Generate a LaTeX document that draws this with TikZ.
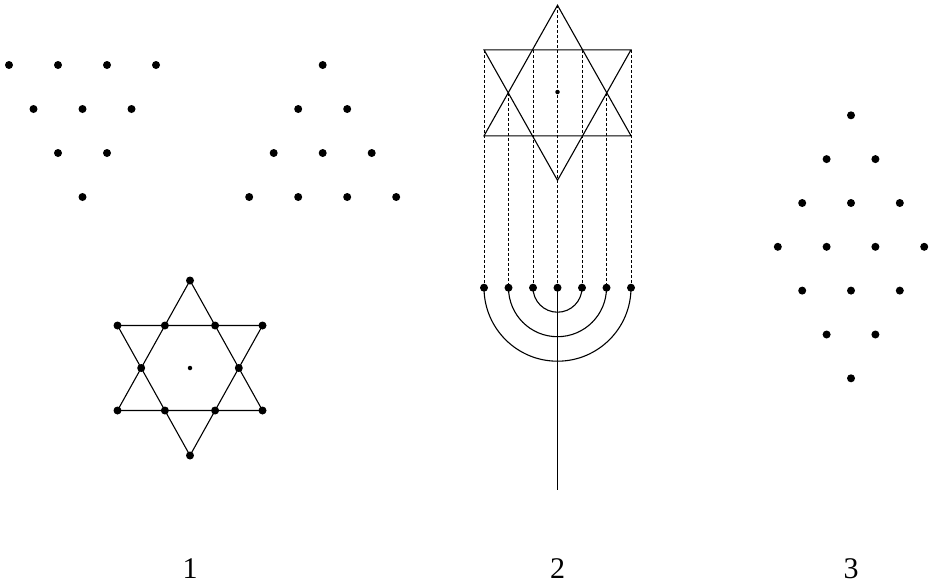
\documentclass[tikz,border=0pt]{standalone}
\usepackage{fontspec}
\setmainfont{Liberation Serif}
\begin{document}
\begin{tikzpicture}[x=1pt,y=-1pt,
  dot/.style={circle,fill=black,inner sep=0pt,minimum size=8pt},
  cdot/.style={circle,fill=black,inner sep=0pt,minimum size=4.5pt},
  edge/.style={line width=1.1pt,line join=miter},
  proj/.style={line width=0.8pt,dash pattern=on 3pt off 2pt},
  lab/.style={font=\fontsize{30}{30}\selectfont,anchor=base,inner sep=0pt}]
\useasboundingbox (0,0) rectangle (933,584);

% ---------- downward triangle of dots (top left)
\node[dot] (a1) at (9,65) {};
\node[dot] (a2) at (58,65) {};
\node[dot] (a3) at (107,65) {};
\node[dot] (a4) at (156,65) {};
\node[dot] (a5) at (33.5,109) {};
\node[dot] (a6) at (82.5,109) {};
\node[dot] (a7) at (131.5,109) {};
\node[dot] (a8) at (58,153) {};
\node[dot] (a9) at (107,153) {};
\node[dot] (a10) at (82.5,197) {};

% ---------- upward triangle of dots
\node[dot] (b1) at (322.7,65) {};
\node[dot] (b2) at (298.2,109) {};
\node[dot] (b3) at (347.2,109) {};
\node[dot] (b4) at (273.7,153) {};
\node[dot] (b5) at (322.7,153) {};
\node[dot] (b6) at (371.7,153) {};
\node[dot] (b7) at (249.2,197) {};
\node[dot] (b8) at (298.2,197) {};
\node[dot] (b9) at (347.2,197) {};
\node[dot] (b10) at (396.2,197) {};

% ---------- star of dots (1)
\node[dot] (sT) at (190,280.5) {};
\node[dot] (sB) at (190,455.5) {};
\node[dot] (sU1) at (117.5,325.5) {};
\node[dot] (sU2) at (164.9,325.5) {};
\node[dot] (sU3) at (215.1,325.5) {};
\node[dot] (sU4) at (262.5,325.5) {};
\node[dot] (sM1) at (141.2,368) {};
\node[dot] (sM2) at (238.8,368) {};
\node[dot] (sL1) at (117.5,410.5) {};
\node[dot] (sL2) at (164.9,410.5) {};
\node[dot] (sL3) at (215.1,410.5) {};
\node[dot] (sL4) at (262.5,410.5) {};
\node[cdot] (sC) at (190,368) {};
\draw[edge] (sT.center) -- (sL1.center) -- (sL4.center) -- cycle;
\draw[edge] (sB.center) -- (sU1.center) -- (sU4.center) -- cycle;

% ---------- star over menorah (2)
\coordinate (mT) at (557.5,5.3);
\coordinate (mB) at (557.5,180.3);
\coordinate (mU1) at (484,49.8);
\coordinate (mU2) at (533,49.8);
\coordinate (mU3) at (582,49.8);
\coordinate (mU4) at (631,49.8);
\coordinate (mM1) at (508.5,92.8);
\coordinate (mM2) at (606.5,92.8);
\coordinate (mL1) at (484,135.8);
\coordinate (mL4) at (631,135.8);
\node[cdot] (mC) at (557.5,92) {};
\draw[edge] (mT) -- (mL1) -- (mL4) -- cycle;
\draw[edge] (mB) -- (mU1) -- (mU4) -- cycle;

% menorah branches
\node[dot] (n1) at (484,287.7) {};
\node[dot] (n2) at (508.5,287.7) {};
\node[dot] (n3) at (533,287.7) {};
\node[dot] (n4) at (557.5,287.7) {};
\node[dot] (n5) at (582,287.7) {};
\node[dot] (n6) at (606.5,287.7) {};
\node[dot] (n7) at (631,287.7) {};
\coordinate (foot) at (557.5,490);

\draw[proj] (mU1) -- (n1.center);
\draw[proj] (mM1) -- (n2.center);
\draw[proj] (mU2) -- (n3.center);
\draw[proj] (mT) -- (n4.center);
\draw[proj] (mU3) -- (n5.center);
\draw[proj] (mM2) -- (n6.center);
\draw[proj] (mU4) -- (n7.center);

\draw[edge] (n3.center) arc[start angle=180,end angle=0,radius=24.5];
\draw[edge] (n2.center) arc[start angle=180,end angle=0,radius=49];
\draw[edge] (n1.center) arc[start angle=180,end angle=0,radius=73.5];
\draw[edge] (n4.center) -- (foot);

% ---------- diamond of dots (3)
\node[dot] (d1) at (851,115.3) {};
\node[dot] (d2) at (826.6,159.1) {};
\node[dot] (d3) at (875.4,159.1) {};
\node[dot] (d4) at (802.2,203) {};
\node[dot] (d5) at (851,203) {};
\node[dot] (d6) at (899.8,203) {};
\node[dot] (d7) at (777.8,246.8) {};
\node[dot] (d8) at (826.6,246.8) {};
\node[dot] (d9) at (875.4,246.8) {};
\node[dot] (d10) at (924.2,246.8) {};
\node[dot] (d11) at (802.2,290.6) {};
\node[dot] (d12) at (851,290.6) {};
\node[dot] (d13) at (899.8,290.6) {};
\node[dot] (d14) at (826.6,334.5) {};
\node[dot] (d15) at (875.4,334.5) {};
\node[dot] (d16) at (851,378.3) {};

% ---------- labels
\node[lab] (l1) at (190,578) {1};
\node[lab] (l2) at (557.5,578) {2};
\node[lab] (l3) at (851,578) {3};
\end{tikzpicture}
\end{document}
